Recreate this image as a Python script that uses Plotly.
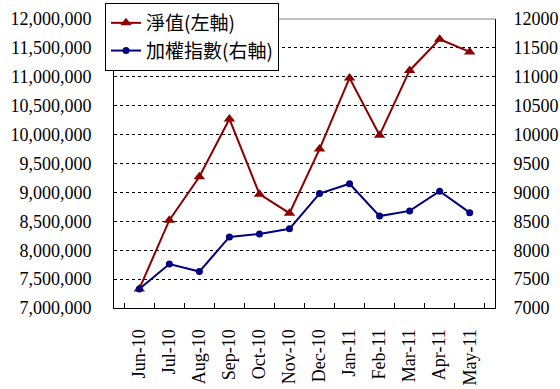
import plotly.graph_objects as go

months = ["Jun-10", "Jul-10", "Aug-10", "Sep-10", "Oct-10", "Nov-10",
          "Dec-10", "Jan-11", "Feb-11", "Mar-11", "Apr-11", "May-11"]
nav = [7330000, 8520000, 9270000, 10270000, 8970000, 8640000,
       9750000, 10980000, 9990000, 11110000, 11650000, 11430000]
taiex = [7330, 7760, 7630, 8230, 8280, 8370,
         8980, 9150, 8590, 8680, 9020, 8650]
left_ticks = list(range(7000000, 12000001, 500000))
right_ticks = list(range(7000, 12001, 500))

RED = "#8B0000"
BLUE = "#000080"
TICKFONT = dict(family="Liberation Serif, Times New Roman, serif", size=18, color="black")

fig = go.Figure()
fig.add_trace(go.Scatter(
    x=months, y=nav, name="淨值(左軸)", mode="lines+markers",
    line=dict(color=RED, width=2),
    marker=dict(symbol="triangle-up", size=10, color=RED),
    yaxis="y"))
fig.add_trace(go.Scatter(
    x=months, y=taiex, name="加權指數(右軸)", mode="lines+markers",
    line=dict(color=BLUE, width=2),
    marker=dict(symbol="circle", size=7, color=BLUE),
    yaxis="y2"))

fig.update_layout(
    width=560, height=389,
    margin=dict(l=114, r=65, t=19, b=81, autoexpand=False),
    paper_bgcolor="white", plot_bgcolor="white",
    showlegend=True,
    legend=dict(
        xref="container", yref="container",
        x=105 / 560, y=1 - 3 / 389, xanchor="left", yanchor="top",
        bgcolor="white", bordercolor="black", borderwidth=1,
        font=dict(family="Noto Sans CJK TC", size=19, color="black"),
        tracegroupgap=0,
    ),
    xaxis=dict(
        type="category", tickangle=-90, tickfont=TICKFONT,
        showline=True, linecolor="black", linewidth=1,
        ticks="inside", ticklen=5, tickcolor="black", tickson="boundaries",
        showgrid=False, ticklabelstandoff=13, automargin=False,
    ),
    yaxis=dict(
        range=[7000000, 12000000], tickvals=left_ticks,
        tickformat=",", tickfont=TICKFONT,
        showline=True, linecolor="black", linewidth=1,
        showgrid=True, gridcolor="black", griddash="3px,3px", gridwidth=1,
        ticks="", zeroline=False, ticklabelstandoff=18, automargin=False,
    ),
    yaxis2=dict(
        range=[7000, 12000], tickvals=right_ticks,
        tickformat="d", tickfont=TICKFONT,
        overlaying="y", side="right",
        showline=True, linecolor="black", linewidth=1,
        showgrid=False, ticks="", zeroline=False, ticklabelstandoff=14,
        automargin=False,
    ),
    shapes=[dict(type="line", xref="paper", yref="paper", x0=0, x1=1, y0=1, y1=1,
                 line=dict(color="#808080", width=1), layer="above")],
)

fig.write_html("out.html", config={"displayModeBar": False},
               post_script="document.body.style.margin='0';")
